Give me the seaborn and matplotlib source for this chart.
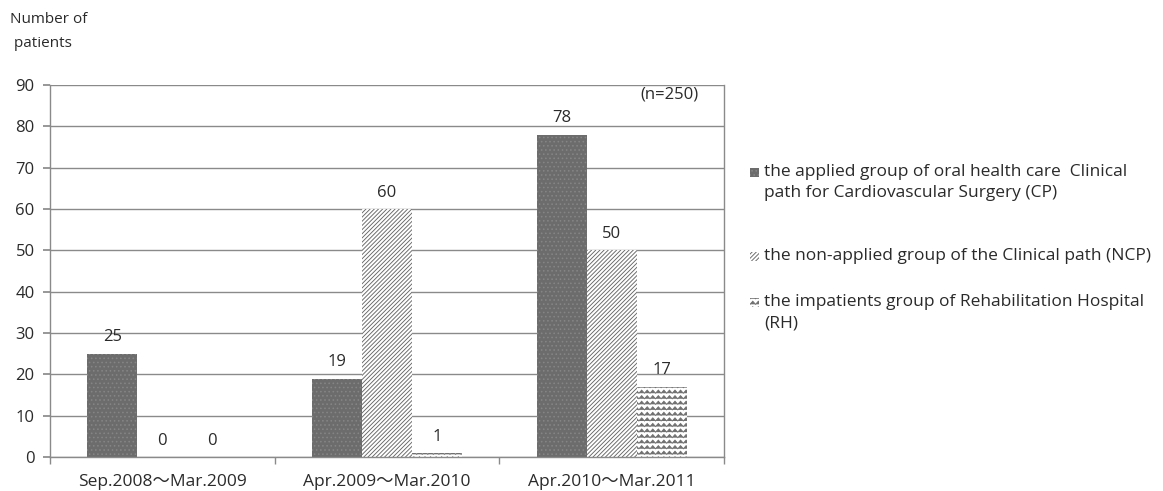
import warnings
import matplotlib
matplotlib.use("Agg")
import matplotlib.pyplot as plt
import matplotlib.hatch as mhatch
from matplotlib.path import Path
from matplotlib.patches import Rectangle
import numpy as np
import seaborn as sns
import pandas as pd

warnings.filterwarnings("ignore")

periods = ["Sep.2008～Mar.2009", "Apr.2009～Mar.2010", "Apr.2010～Mar.2011"]
groups = [
    "the applied group of oral health care  Clinical\npath for Cardiovascular Surgery (CP)",
    "the non-applied group of the Clinical path (NCP)",
    "the impatients group of Rehabilitation Hospital\n(RH)",
]
cp_counts = [25, 19, 78]
ncp_counts = [0, 60, 50]
rh_counts = [0, 1, 17]


class WaveHatch(mhatch.HatchPatternBase):
    """Rows of small zigzag waves, selected with the '~' hatch character."""

    def __init__(self, hatch, density):
        self.num_rows = hatch.count("~") * density
        self.num_peaks = self.num_rows
        self.pts_per_row = 2 * self.num_peaks + 1
        self.num_vertices = self.num_rows * self.pts_per_row if self.num_rows else 0

    def set_vertices_and_codes(self, vertices, codes):
        xs = np.linspace(0.0, 1.0, self.pts_per_row)
        amp = 0.28 / self.num_rows
        offs = np.where(np.arange(self.pts_per_row) % 2 == 0, -amp, amp)
        for r in range(self.num_rows):
            y0 = (r + 0.5) / self.num_rows
            sl = slice(r * self.pts_per_row, (r + 1) * self.pts_per_row)
            vertices[sl, 0] = xs
            vertices[sl, 1] = y0 + offs
            codes[sl] = Path.LINETO
            codes[r * self.pts_per_row] = Path.MOVETO


mhatch._hatch_types.append(WaveHatch)

rows = []
for g, vals in zip(groups, [cp_counts, ncp_counts, rh_counts]):
    for p, v in zip(periods, vals):
        rows.append({"period": p, "group": g, "patients": v})
df = pd.DataFrame(rows)

sns.set_theme(style="white")
plt.rcParams["font.family"] = ["Open Sans", "Noto Sans CJK JP", "DejaVu Sans"]
plt.rcParams["hatch.linewidth"] = 0.65

W, H = 1163, 491
fig = plt.figure(figsize=(W / 100, H / 100), dpi=100)
ax = fig.add_axes([0.043, 0.069, 0.5795, 0.758])

styles = [
    dict(facecolor="#6c6c6c", hatch="....", edgecolor="#858585"),
    dict(facecolor="white", hatch="////////", edgecolor="#666666"),
    dict(facecolor="white", hatch="~~~", edgecolor="#707070"),
]

sns.barplot(data=df, x="period", y="patients", hue="group", hue_order=groups,
            order=periods, width=0.667, gap=0, ax=ax, legend=False,
            palette=["#6c6c6c", "white", "white"])

text_color = "#2a2a2a"
for cont, st in zip(ax.containers, styles):
    for bar in cont:
        bar.set_facecolor(st["facecolor"])
        bar.set_hatch(st["hatch"])
        bar.set_edgecolor(st["edgecolor"])
        bar.set_linewidth(0)
    ax.bar_label(cont, padding=6, fontsize=12, color=text_color)

ax.set_ylim(0, 90)
ax.set_xlim(-0.5, 2.5)
ax.set_yticks(range(0, 91, 10))
ax.yaxis.grid(True, color="#8a8a8a", linewidth=1)
ax.set_axisbelow(True)
ax.set_xlabel("")
ax.set_ylabel("")
ax.tick_params(axis="y", labelsize=12, left=True, length=5, color="#8a8a8a",
               labelcolor=text_color, pad=6)
ax.tick_params(axis="x", labelsize=12.5, bottom=False, labelcolor=text_color, pad=6)
ax.set_xticks([-0.5, 0.5, 1.5, 2.5], minor=True)
ax.tick_params(axis="x", which="minor", bottom=True, length=5, color="#8a8a8a")
for side in ["left", "right", "bottom"]:
    ax.spines[side].set_visible(True)
    ax.spines[side].set_color("#8a8a8a")
    ax.spines[side].set_linewidth(1)
ax.spines["top"].set_visible(False)

fig.text(0.009, 0.975, "Number of\n patients", fontsize=11, va="top", ha="left",
         color=text_color, linespacing=1.8)
fig.text(0.551, 0.807, "(n=250)", fontsize=12, va="center", ha="left", color=text_color)

# Key: a small swatch beside each group's description (top of each entry, in pixels)
entry_tops = [164, 248, 294]
for label, st, top in zip(groups, styles, entry_tops):
    fig.add_artist(Rectangle((750 / W, 1 - (top + 13) / H), 9 / W, 9 / H,
                             transform=fig.transFigure, linewidth=0, **st))
    fig.text(764 / W, 1 - top / H, label, fontsize=12.5, va="top", ha="left",
             color=text_color, linespacing=1.45)

fig.savefig("out.png", dpi=100)
